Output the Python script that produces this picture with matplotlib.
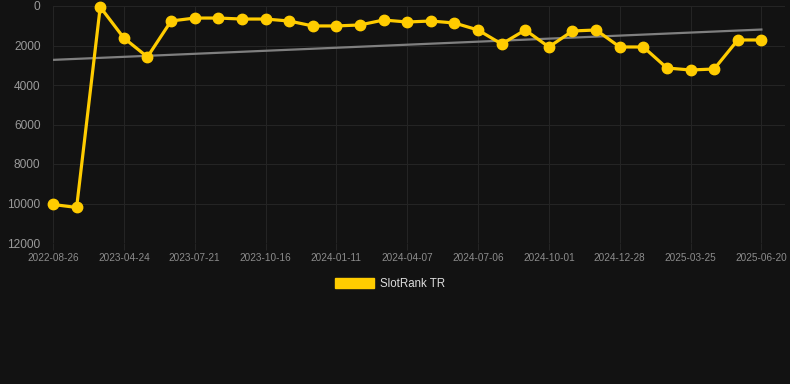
import numpy as np
import matplotlib
matplotlib.use("Agg")
import matplotlib.pyplot as plt
from matplotlib.patches import Patch

# SlotRank TR positions, one value per snapshot date
dates = [
    "2022-08-26", "2022-12-28", "2023-03-26", "2023-04-24", "2023-05-23", "2023-06-21",
    "2023-07-21", "2023-08-19", "2023-09-17", "2023-10-16", "2023-11-14", "2023-12-13",
    "2024-01-11", "2024-02-09", "2024-03-09", "2024-04-07", "2024-05-06", "2024-06-06",
    "2024-07-06", "2024-08-04", "2024-09-02", "2024-10-01", "2024-10-30", "2024-11-28",
    "2024-12-28", "2025-01-26", "2025-02-24", "2025-03-25", "2025-04-23", "2025-05-22",
    "2025-06-20",
]
rank = [
    10050, 10200, 50, 1620, 2580, 760, 610, 610, 660, 660, 760, 1010, 1010, 960, 710,
    810, 760, 860, 1215, 1925, 1215, 2075, 1265, 1215, 2075, 2075, 3140, 3240, 3190,
    1720, 1720,
]
y_ticks = [0, 2000, 4000, 6000, 8000, 10000, 12000]

bg = "#121212"
yellow = "#ffcc00"
grid = "#242424"

plt.rcParams["font.family"] = ["Liberation Sans", "DejaVu Sans"]

fig = plt.figure(figsize=(7.9, 3.84), dpi=100, facecolor=bg)
ax = fig.add_axes([53 / 790, 1 - 243 / 384, (785 - 53) / 790, 237 / 384])
ax.set_facecolor(bg)

x = np.arange(len(rank))
# linear trend through the series
k, b = np.polyfit(x, rank, 1)
ax.plot([x[0], x[-1]], [b, k * x[-1] + b], color="#7f7f7f", lw=1.6, zorder=2)

ax.plot(x, rank, color=yellow, lw=2.3, marker="o", ms=7.5, zorder=3, clip_on=False)

ax.set_xlim(0, 31.0)
ax.set_ylim(12000, 0)
ax.set_yticks(y_ticks)
ax.set_yticklabels([str(v) for v in y_ticks])
ax.set_xticks(x[::3])
ax.set_xticklabels(dates[::3])

for s in ax.spines.values():
    s.set_visible(False)
ax.grid(True, color=grid, lw=0.8)
ax.set_axisbelow(True)
ax.tick_params(axis="x", colors=grid, length=5, width=0.8, labelcolor="#8c8c8c",
               labelsize=7.2, pad=2)
ax.tick_params(axis="y", length=0, labelcolor="#9a9a9a", labelsize=8.6, pad=9)

leg = fig.legend(handles=[Patch(facecolor=yellow, edgecolor=yellow, label="SlotRank TR")],
                 loc="center", bbox_to_anchor=(390 / 790, 1 - 284 / 384), frameon=False,
                 handlelength=3.4, handleheight=1.0, handletextpad=0.5, fontsize=8.3)
for t in leg.get_texts():
    t.set_color("#dddddd")

fig.savefig("out.png", dpi=100, facecolor=bg)
